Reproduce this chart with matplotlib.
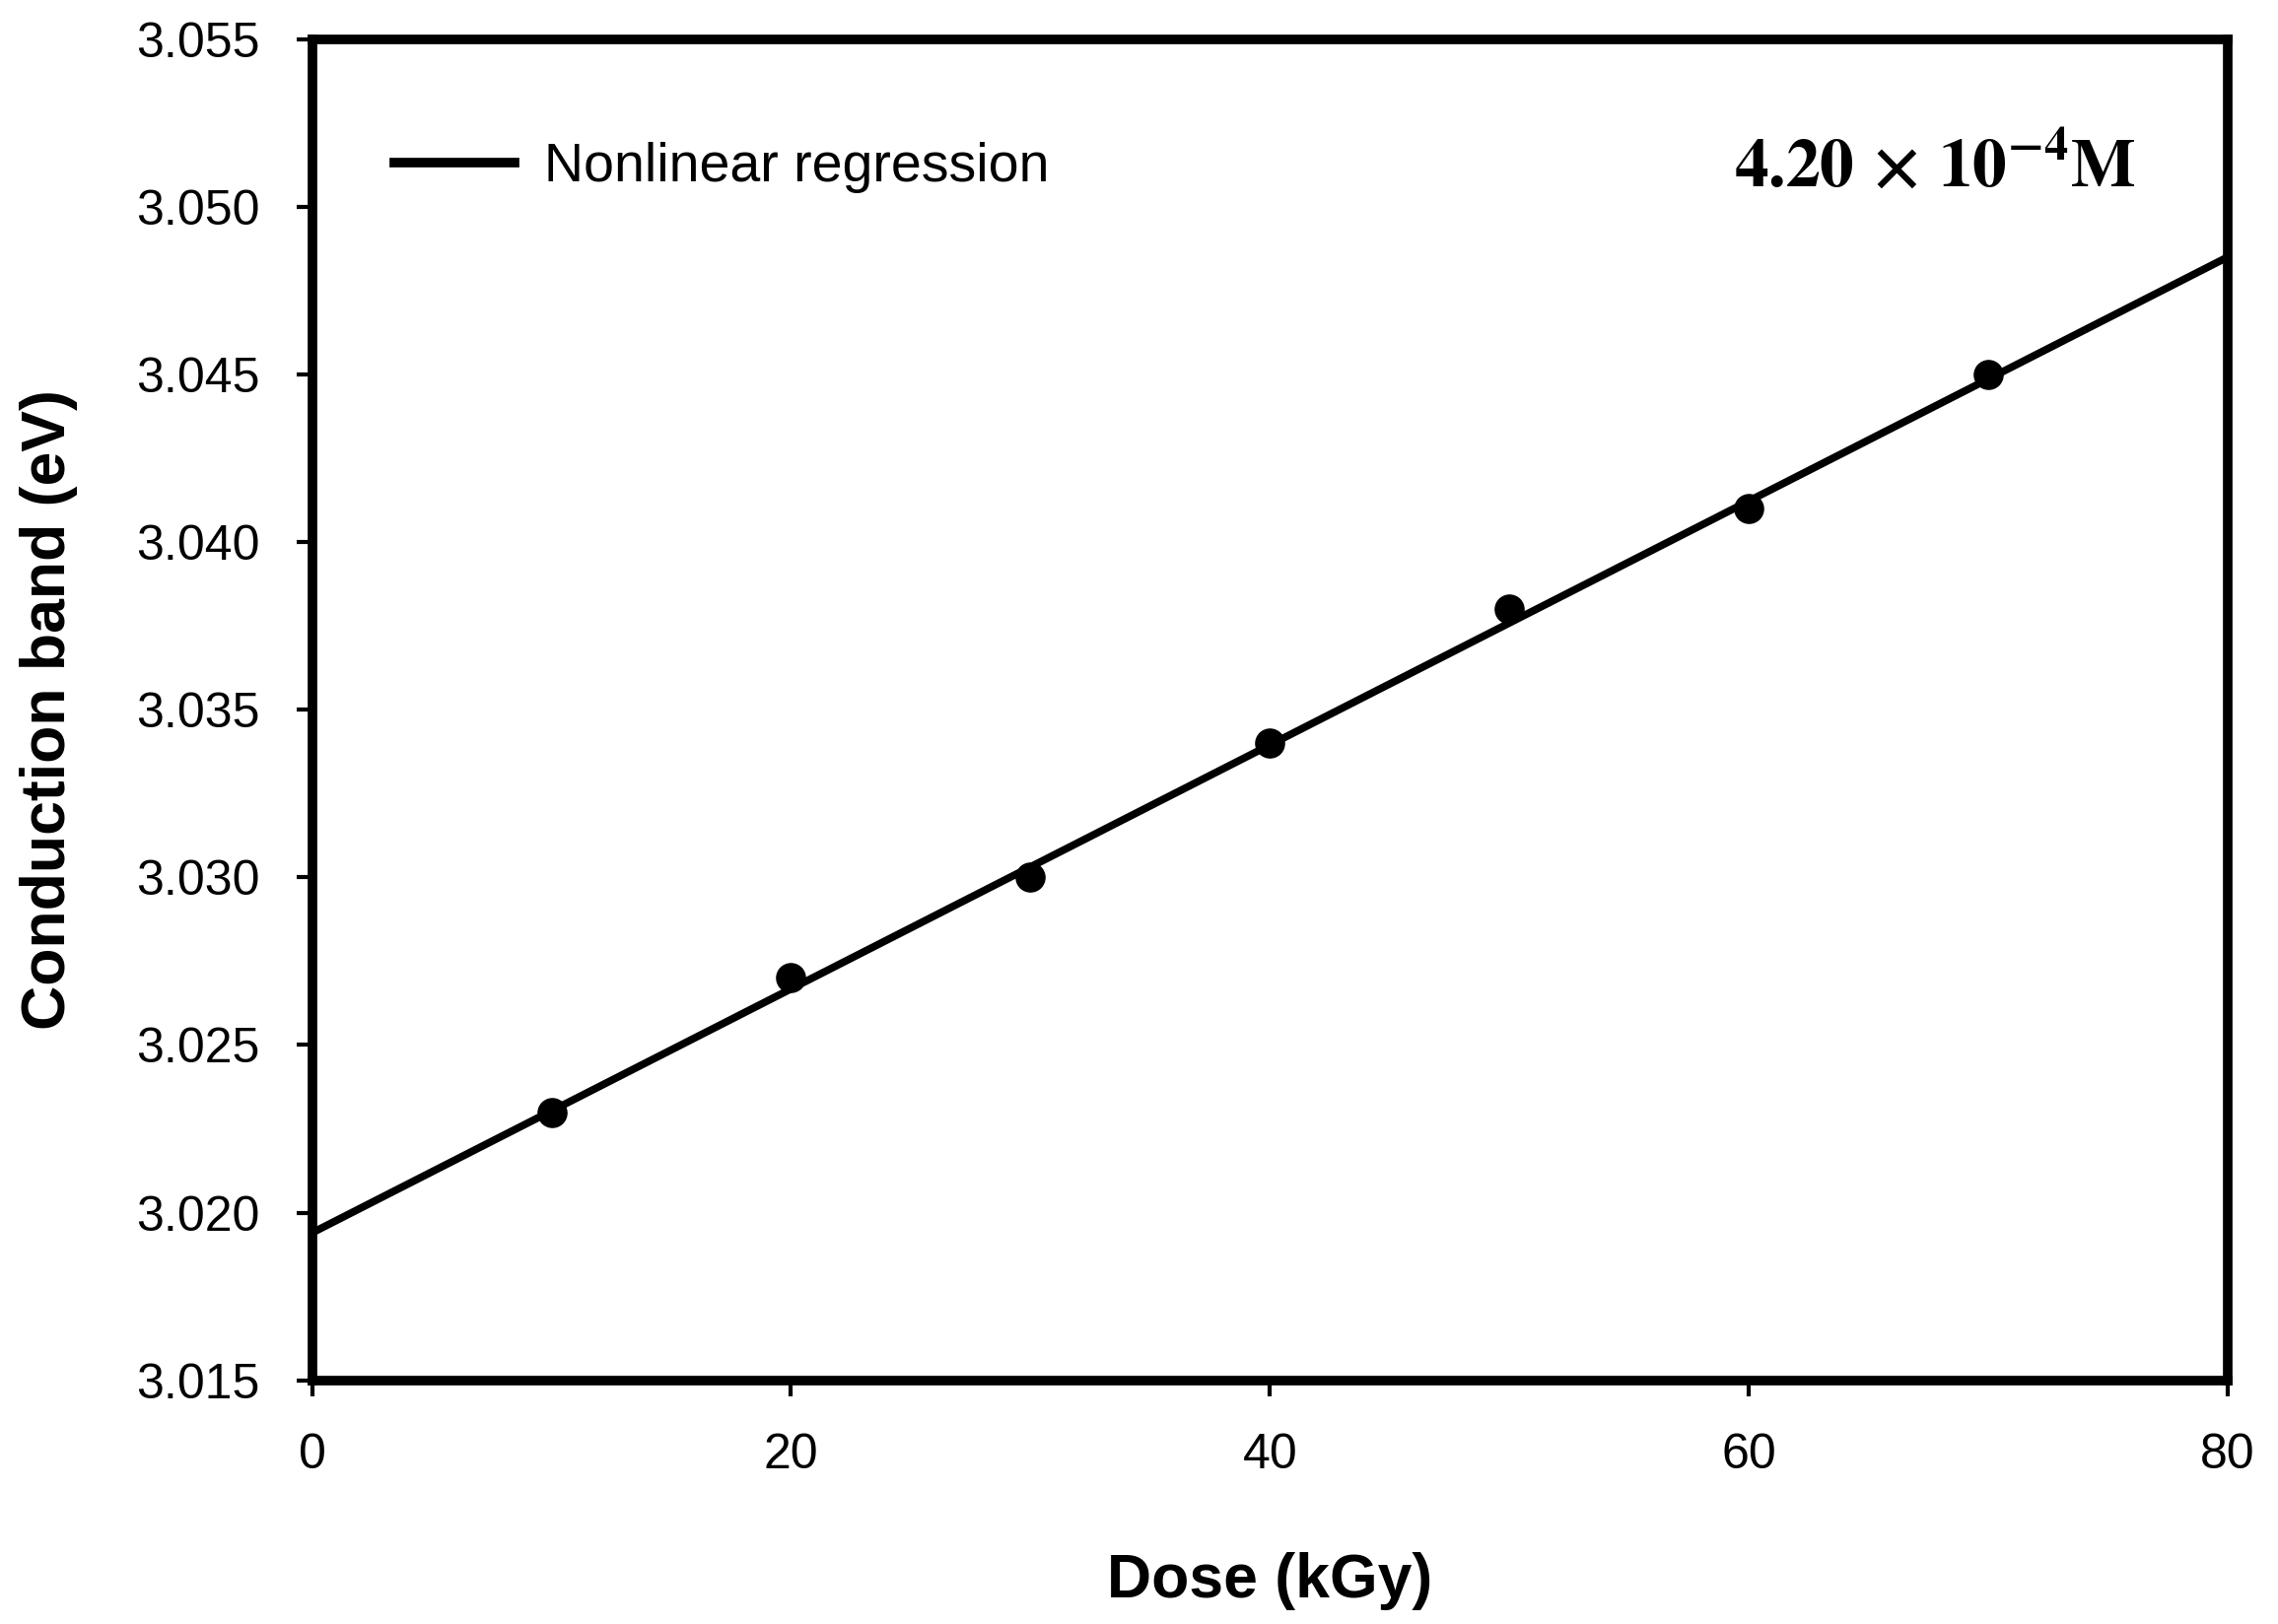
import numpy as np
import matplotlib
matplotlib.use('Agg')
import matplotlib.pyplot as plt
from matplotlib.lines import Line2D

# Datos
dose = [10, 20, 30, 40, 50, 60, 70]
cband = [3.023, 3.027, 3.030, 3.034, 3.038, 3.041, 3.045]

# Recta de regresión (extremos leídos)
fit_x = [0, 80]
fit_y = [3.0194, 3.0485]

xticks = [0, 20, 40, 60, 80]
yticks = [3.015, 3.020, 3.025, 3.030, 3.035, 3.040, 3.045, 3.050, 3.055]

plt.rcParams['font.family'] = ['Liberation Sans', 'DejaVu Sans']
plt.rcParams['mathtext.fontset'] = 'stix'

fig = plt.figure(figsize=(23.11, 16.48), dpi=100)
ax = fig.add_axes([0.137, 0.150, 0.841, 0.826])

ax.plot(dose, cband, 'o', color='black', markersize=21, zorder=2)
ax.plot(fit_x, fit_y, '-', color='black', lw=5.5, zorder=3, solid_capstyle='butt')

ax.set_xlim(0, 80)
ax.set_ylim(3.015, 3.055)
ax.set_xticks(xticks)
ax.set_yticks(yticks)
ax.set_xticklabels([str(v) for v in xticks])
ax.set_yticklabels(['%.3f' % v for v in yticks])

for s in ax.spines.values():
    s.set_linewidth(7)
ax.tick_params(axis='both', direction='out', length=11.5, width=3, pad=27,
               labelsize=36, top=False, right=False)

ax.set_xlabel('Dose (kGy)', fontsize=45, fontweight='bold')
ax.set_ylabel('Conduction band (eV)', fontsize=45, fontweight='bold')
ax.xaxis.set_label_coords(0.5, -0.128)
ax.yaxis.set_label_coords(-0.122, 0.5)

handle = Line2D([0], [0], color='black', lw=7)
ax.legend([handle], ['Nonlinear regression'], loc='center left',
          bbox_to_anchor=(0.043, 0.904), frameon=False, fontsize=40,
          handlelength=2.2, handletextpad=0.54, borderpad=0, borderaxespad=0)

ax.text(0.952, 0.904, r'$\mathbf{4.20\,\times\,10^{-4}M}$', transform=ax.transAxes,
        ha='right', va='center', fontsize=50, color='black')

fig.savefig('out.png', dpi=100)
